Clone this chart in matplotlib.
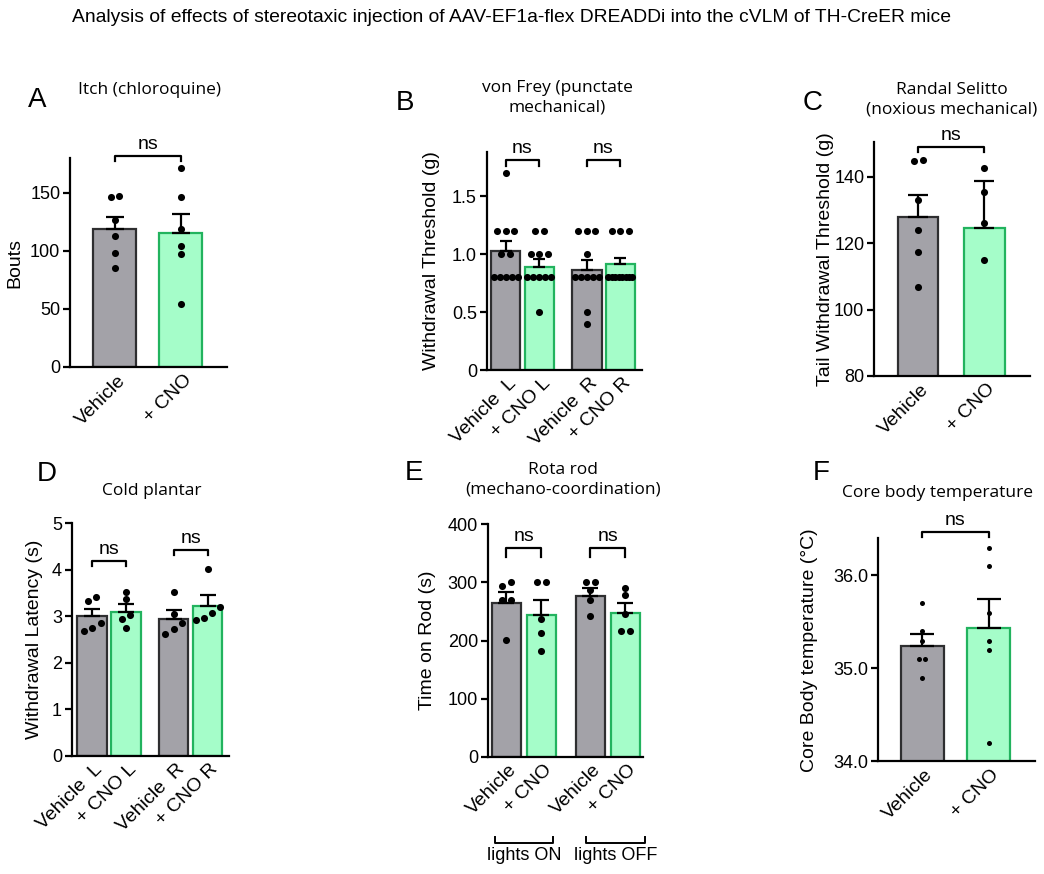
import numpy as np
import matplotlib
matplotlib.use('Agg')
import matplotlib.pyplot as plt
import matplotlib.transforms as mtransforms

plt.rcParams['font.family'] = ['Liberation Sans', 'DejaVu Sans']

W, H = 1044, 874

# colours
GRAY = '#a3a2a8'
GRAY_EDGE = '#2e2e30'
GREEN = '#a5fdc9'
GREEN_EDGE = '#22b35e'

# ---------------- data ----------------
# A - itch (chloroquine)
a_labels = ['Vehicle', '+ CNO']
a_means = [119, 115]
a_sem = [10.5, 17]
a_vehicle = [146, 147.5, 126.5, 112.5, 98.5, 85]
a_cno = [171, 146, 119, 104.5, 97, 54]

# B - von Frey
b_labels = ['Vehicle  L', '+ CNO L', 'Vehicle  R', '+ CNO R']
b_means = [1.03, 0.89, 0.86, 0.91]
b_sem = [0.085, 0.07, 0.09, 0.06]
b_veh_l = [1.7, 1.2, 1.2, 1.2, 1.0, 1.0, 0.8, 0.8, 0.8, 0.8, 0.8]
b_cno_l = [1.2, 1.2, 1.0, 1.0, 1.0, 0.8, 0.8, 0.8, 0.8, 0.8, 0.5]
b_veh_r = [1.2, 1.2, 1.2, 1.0, 0.8, 0.8, 0.8, 0.8, 0.8, 0.5, 0.4]
b_cno_r = [1.2, 1.2, 1.2, 0.8, 0.8, 0.8, 0.8, 0.8, 0.8, 0.8, 0.8]

# C - Randal Selitto
c_labels = ['Vehicle', '+ CNO']
c_means = [128, 124.5]
c_sem = [6.5, 14.2]
c_vehicle = [145, 144.8, 133, 124, 117.3, 106.7]
c_cno = [142.6, 135.5, 126, 115.1]

# D - cold plantar
d_labels = ['Vehicle  L', '+ CNO L', 'Vehicle  R', '+ CNO R']
d_means = [3.0, 3.09, 2.95, 3.22]
d_sem = [0.16, 0.17, 0.19, 0.23]
d_veh_l = [3.42, 3.32, 2.85, 2.74, 2.69]
d_cno_l = [3.52, 3.37, 3.03, 2.95, 2.74]
d_veh_r = [3.53, 3.05, 2.85, 2.72, 2.62]
d_cno_r = [4.02, 3.21, 3.08, 2.97, 2.92]

# E - rota rod
e_labels = ['Vehicle', '+ CNO', 'Vehicle', '+ CNO']
e_means = [265, 244, 277, 247]
e_sem = [19, 26, 14, 17.5]
e_veh_on = [300, 294, 270, 270, 201]
e_cno_on = [300, 300, 236.5, 212.5, 182.5]
e_veh_off = [300, 300, 287, 269, 242]
e_cno_off = [290, 278, 245.6, 217, 217]
e_groups = ['lights ON', 'lights OFF']

# F - core body temperature
f_labels = ['Vehicle', '+ CNO']
f_means = [35.24, 35.44]
f_sem = [0.13, 0.31]
f_vehicle = [35.7, 35.4, 35.3, 35.1, 35.1, 34.9]
f_cno = [36.3, 36.1, 35.6, 35.3, 35.2, 34.2]

fig = plt.figure(figsize=(W / 100, H / 100), dpi=100)


def add_ax(l, r, b, t):
    return fig.add_axes([l / W, 1 - b / H, (r - l) / W, (b - t) / H])


def style(ax, xlim, ylim, yticks, ylabels):
    ax.set_xlim(*xlim)
    ax.set_ylim(*ylim)
    for s in ['top', 'right']:
        ax.spines[s].set_visible(False)
    for s in ['left', 'bottom']:
        ax.spines[s].set_linewidth(1.6)
        ax.spines[s].set_color('black')
    ax.set_yticks(yticks)
    ax.set_yticklabels(ylabels)
    ax.tick_params(axis='y', direction='out', length=5, width=1.6, labelsize=13, pad=2)
    ax.tick_params(axis='x', length=0, labelsize=14, pad=2)


def ylab(ax, text, xpx):
    # place the y label centre at an absolute pixel column
    bb = ax.get_position()
    ax.set_ylabel(text, fontsize=14)
    ax.yaxis.label.set_va('center')
    ax.yaxis.set_label_coords((xpx / W - bb.x0) / bb.width, 0.5)


def swarm(ax, vals, center, dot_px=6.5, max_px=24):
    # spread points that would overlap horizontally
    bb = ax.get_position()
    x0, x1 = ax.get_xlim()
    y0, y1 = ax.get_ylim()
    ppx = bb.width * W / (x1 - x0)
    ppy = bb.height * H / (y1 - y0)
    tol = dot_px / ppy
    vals = np.asarray(vals, dtype=float)
    order = np.argsort(vals)
    xs = np.full(len(vals), float(center))
    groups = [[order[0]]]
    for i in order[1:]:
        if vals[i] - vals[groups[-1][-1]] < tol:
            groups[-1].append(i)
        else:
            groups.append([i])
    for g in groups:
        n = len(g)
        if n == 1:
            continue
        step = min(dot_px * 1.3, max_px / (n - 1)) / ppx
        offs = (np.arange(n) - (n - 1) / 2) * step
        for k, i in enumerate(g):
            xs[i] = center + offs[k]
    return xs


def bars(ax, pos, means, sem, width, capsize):
    cols = [GRAY, GREEN] * (len(pos) // 2)
    edges = [GRAY_EDGE, GREEN_EDGE] * (len(pos) // 2)
    ax.bar(pos, means, width, color=cols, edgecolor=edges, linewidth=1.6, zorder=2)
    ax.errorbar(pos, means, yerr=[np.zeros(len(sem)), sem], fmt='none', ecolor='black',
                elinewidth=1.6, capsize=capsize, capthick=1.6, zorder=3)


def dots(ax, pos, series, s=26, **kw):
    for p, vals in zip(pos, series):
        xs = swarm(ax, vals, p, **kw)
        ax.scatter(xs, vals, s=s, color='black', zorder=4, clip_on=False, linewidths=0)


def ns(ax, x1, x2, y, drop):
    ax.plot([x1, x1, x2, x2], [y - drop, y, y, y - drop], color='black', lw=1.6,
            clip_on=False, zorder=5)
    ax.annotate('ns', ((x1 + x2) / 2, y), xytext=(0, 2), textcoords='offset points',
                ha='center', va='bottom', fontsize=14, annotation_clip=False)


def xlabels(ax, pos, labels):
    ax.set_xticks(pos)
    ax.set_xticklabels(labels, rotation=45, ha='right', rotation_mode='anchor')
    offset = mtransforms.ScaledTranslation(2 / 100, -2 / 100, fig.dpi_scale_trans)
    for lab in ax.get_xticklabels():
        lab.set_transform(lab.get_transform() + offset)


def panel_text(x, y, letter, title):
    fig.text(x[0] / W, 1 - y[0] / H, letter, fontsize=20, ha='center', va='center')
    fig.text(x[1] / W, 1 - y[1] / H, title, fontsize=12.5, ha='center', va='center',
             family=['Open Sans', 'DejaVu Sans'], linespacing=1.25)


pos2 = [0, 1]
pos4 = [0, 1, 2.4, 3.4]

# ---------------- A ----------------
ax = add_ax(70, 227, 367, 158)
style(ax, (-0.68, 1.7), (0, 180), [0, 50, 100, 150], ['0', '50', '100', '150'])
bars(ax, pos2, a_means, a_sem, 0.65, 6.8)
dots(ax, pos2, [a_vehicle, a_cno])
ns(ax, 0, 1, 182, 4.5)
xlabels(ax, pos2, a_labels)
ylab(ax, 'Bouts', 15)
panel_text((37, 150), (100, 90), 'A', 'Itch (chloroquine)')

# ---------------- B ----------------
ax = add_ax(486.7, 641.7, 370, 152)
style(ax, (-0.56, 4.03), (0, 1.88), [0, 0.5, 1.0, 1.5], ['0', '0.5', '1.0', '1.5'])
bars(ax, pos4, b_means, b_sem, 0.88, 4.6)
dots(ax, pos4, [b_veh_l, b_cno_l, b_veh_r, b_cno_r])
ns(ax, pos4[0], pos4[1], 1.81, 0.05)
ns(ax, pos4[2], pos4[3], 1.81, 0.05)
xlabels(ax, pos4, b_labels)
ylab(ax, 'Withdrawal Threshold (g)', 431)
panel_text((405, 557), (103, 98), 'B', 'von Frey (punctate\nmechanical)')

# ---------------- C ----------------
ax = add_ax(874, 1030, 376, 141.7)
style(ax, (-0.67, 1.69), (80, 150.6), [80, 100, 120, 140], ['80', '100', '120', '140'])
bars(ax, pos2, c_means, c_sem, 0.61, 7.2)
dots(ax, pos2, [c_vehicle, c_cno])
ns(ax, 0, 1, 149, 1.6)
xlabels(ax, pos2, c_labels)
ylab(ax, 'Tail Withdrawal Threshold (g)', 825)
panel_text((813, 952), (103, 100), 'C', 'Randal Selitto\n(noxious mechanical)')

# ---------------- D ----------------
ax = add_ax(71.7, 229, 756, 523.3)
style(ax, (-0.6, 4.03), (0, 5), [0, 1, 2, 3, 4, 5], ['0', '1', '2', '3', '4', '5'])
bars(ax, pos4, d_means, d_sem, 0.86, 6)
dots(ax, pos4, [d_veh_l, d_cno_l, d_veh_r, d_cno_r])
ns(ax, pos4[0], pos4[1], 4.2, 0.12)
ns(ax, pos4[2], pos4[3], 4.43, 0.12)
xlabels(ax, pos4, d_labels)
ylab(ax, 'Withdrawal Latency (s)', 35)
panel_text((47, 152), (474, 491), 'D', 'Cold plantar')

# ---------------- E ----------------
ax = add_ax(487.7, 643, 756.7, 524.3)
style(ax, (-0.53, 3.9), (0, 400), [0, 100, 200, 300, 400], ['0', '100', '200', '300', '400'])
bars(ax, pos4, e_means, e_sem, 0.84, 6)
dots(ax, pos4, [e_veh_on, e_cno_on, e_veh_off, e_cno_off])
ns(ax, pos4[0], pos4[1], 360, 16)
ns(ax, pos4[2], pos4[3], 360, 16)
xlabels(ax, pos4, e_labels)
ylab(ax, 'Time on Rod (s)', 428)
trans = mtransforms.blended_transform_factory(ax.transData, ax.transAxes)
for (g0, g1), name in zip([(pos4[0] - 0.32, pos4[1] + 0.32), (pos4[2] - 0.12, pos4[3] + 0.55)], e_groups):
    ax.plot([g0, g0, g1, g1], [-0.345, -0.373, -0.373, -0.345], color='black', lw=1.4,
            transform=trans, clip_on=False)
    ax.text((g0 + g1) / 2, -0.39, name, transform=trans, ha='center', va='top', fontsize=13)
panel_text((414, 563), (473, 480), 'E', 'Rota rod\n(mechano-coordination)')

# ---------------- F ----------------
ax = add_ax(877.7, 1035, 761.3, 538.3)
style(ax, (-0.67, 1.7), (34, 36.4), [34, 35, 36], ['34.0', '35.0', '36.0'])
bars(ax, pos2, f_means, f_sem, 0.65, 8.4)
dots(ax, pos2, [f_vehicle, f_cno], s=13, dot_px=5, max_px=20)
ns(ax, 0, 1, 36.47, 0.06)
xlabels(ax, pos2, f_labels)
ylab(ax, 'Core Body temperature (°C)', 810)
panel_text((821, 938), (473, 493), 'F', 'Core body temperature')

fig.text(512 / W, 1 - 18 / H,
         'Analysis of effects of stereotaxic injection of AAV-EF1a-flex DREADDi into the cVLM of TH-CreER mice',
         ha='center', va='center', fontsize=13.9,
         family=['Liberation Sans Narrow', 'Liberation Sans', 'DejaVu Sans'])

fig.savefig('out.png', dpi=100, facecolor='white')
